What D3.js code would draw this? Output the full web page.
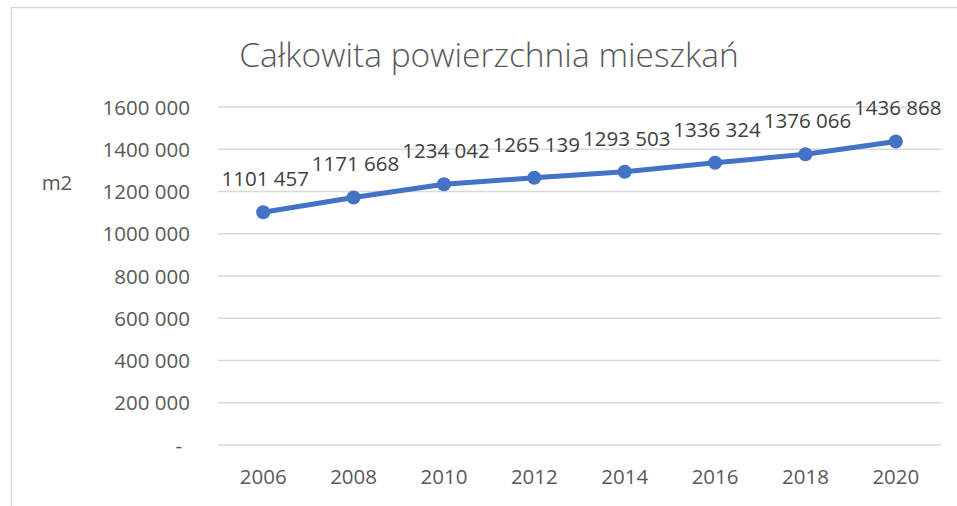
<!DOCTYPE html>
<html>
<head>
<meta charset="utf-8">
<script src="https://cdn.jsdelivr.net/npm/d3@7"></script>
<style>
  body { margin: 0; background: #fff; }
  text { font-family: "Open Sans", sans-serif; fill: #595959; }
</style>
</head>
<body>
<div id="chart"></div>
<script>
var title = "Całkowita powierzchnia mieszkań";
var yLabel = "m2";
var years = ["2006", "2008", "2010", "2012", "2014", "2016", "2018", "2020"];
var values = [1101457, 1171668, 1234042, 1265139, 1293503, 1336324, 1376066, 1436868];
var yTicks = [0, 200000, 400000, 600000, 800000, 1000000, 1200000, 1400000, 1600000];

var width = 957, height = 506;
var plotLeft = 218, plotRight = 941, plotTop = 107, plotBottom = 445;

// polish style: "1600 000", zero shown as "-"
function fmt(v) {
  if (v == 0) return "-";
  var k = Math.floor(v / 1000);
  var r = String(v % 1000).padStart(3, "0");
  return k + " " + r;
}

var svg = d3.select("#chart")
  .append("svg")
  .attr("width", width)
  .attr("height", height);

// chart frame (only top/left visible)
svg.append("rect")
  .attr("x", 11.5)
  .attr("y", 7.5)
  .attr("width", 1000)
  .attr("height", 600)
  .attr("fill", "none")
  .attr("stroke", "#d9d9d9")
  .attr("stroke-width", 1.5);

var x = d3.scaleBand()
  .domain(years)
  .range([plotLeft, plotRight]);

var y = d3.scaleLinear()
  .domain([0, 1600000])
  .range([plotBottom, plotTop]);

// gridlines
svg.append("g")
  .selectAll("line")
  .data(yTicks)
  .enter()
  .append("line")
  .attr("x1", plotLeft)
  .attr("x2", plotRight)
  .attr("y1", d => y(d))
  .attr("y2", d => y(d))
  .attr("stroke", "#d9d9d9")
  .attr("stroke-width", 1.3);

// y axis
var yAxis = svg.append("g")
  .attr("transform", "translate(" + (plotLeft - 28) + ",0)")
  .call(d3.axisLeft(y).tickValues(yTicks).tickFormat(fmt).tickSize(0).tickPadding(0));
yAxis.select(".domain").remove();
yAxis.selectAll("text")
  .attr("dy", "0.35em")
  .style("font-size", "20.5px")
  .attr("fill", "#595959");
yAxis.selectAll("text").filter(d => d == 0).attr("x", -8);

// x axis
var xAxis = svg.append("g")
  .attr("transform", "translate(0," + plotBottom + ")")
  .call(d3.axisBottom(x).tickSize(0).tickPadding(0));
xAxis.select(".domain").remove();
xAxis.selectAll("text")
  .attr("y", 39)
  .attr("dy", 0)
  .style("font-size", "20.5px")
  .attr("fill", "#595959");

// title
svg.append("text")
  .attr("x", 489)
  .attr("y", 67)
  .attr("text-anchor", "middle")
  .style("font-size", "33.5px")
  .style("font-weight", 300)
  .text(title);

// m2
svg.append("text")
  .attr("x", 57)
  .attr("y", 190)
  .attr("text-anchor", "middle")
  .style("font-size", "20.5px")
  .text(yLabel);

var pts = years.map((d, i) => [d, values[i]]);

var line = d3.line()
  .x(d => x(d[0]) + x.bandwidth() / 2)
  .y(d => y(d[1]));

svg.append("path")
  .datum(pts)
  .attr("d", line)
  .attr("fill", "none")
  .attr("stroke", "#4472c4")
  .attr("stroke-width", 5)
  .attr("stroke-linejoin", "round")
  .attr("stroke-linecap", "round");

svg.selectAll(".dot")
  .data(pts)
  .enter()
  .append("circle")
  .attr("class", "dot")
  .attr("cx", d => x(d[0]) + x.bandwidth() / 2)
  .attr("cy", d => y(d[1]))
  .attr("r", 7)
  .attr("fill", "#4472c4");

// data labels, a bit darker than axis text
svg.selectAll(".lbl")
  .data(pts)
  .enter()
  .append("text")
  .attr("class", "lbl")
  .attr("x", d => x(d[0]) + x.bandwidth() / 2 + 2)
  .attr("y", d => y(d[1]) - 26)
  .attr("text-anchor", "middle")
  .style("font-size", "20.5px")
  .style("fill", "#404040")
  .text(d => fmt(d[1]));
</script>
</body>
</html>
